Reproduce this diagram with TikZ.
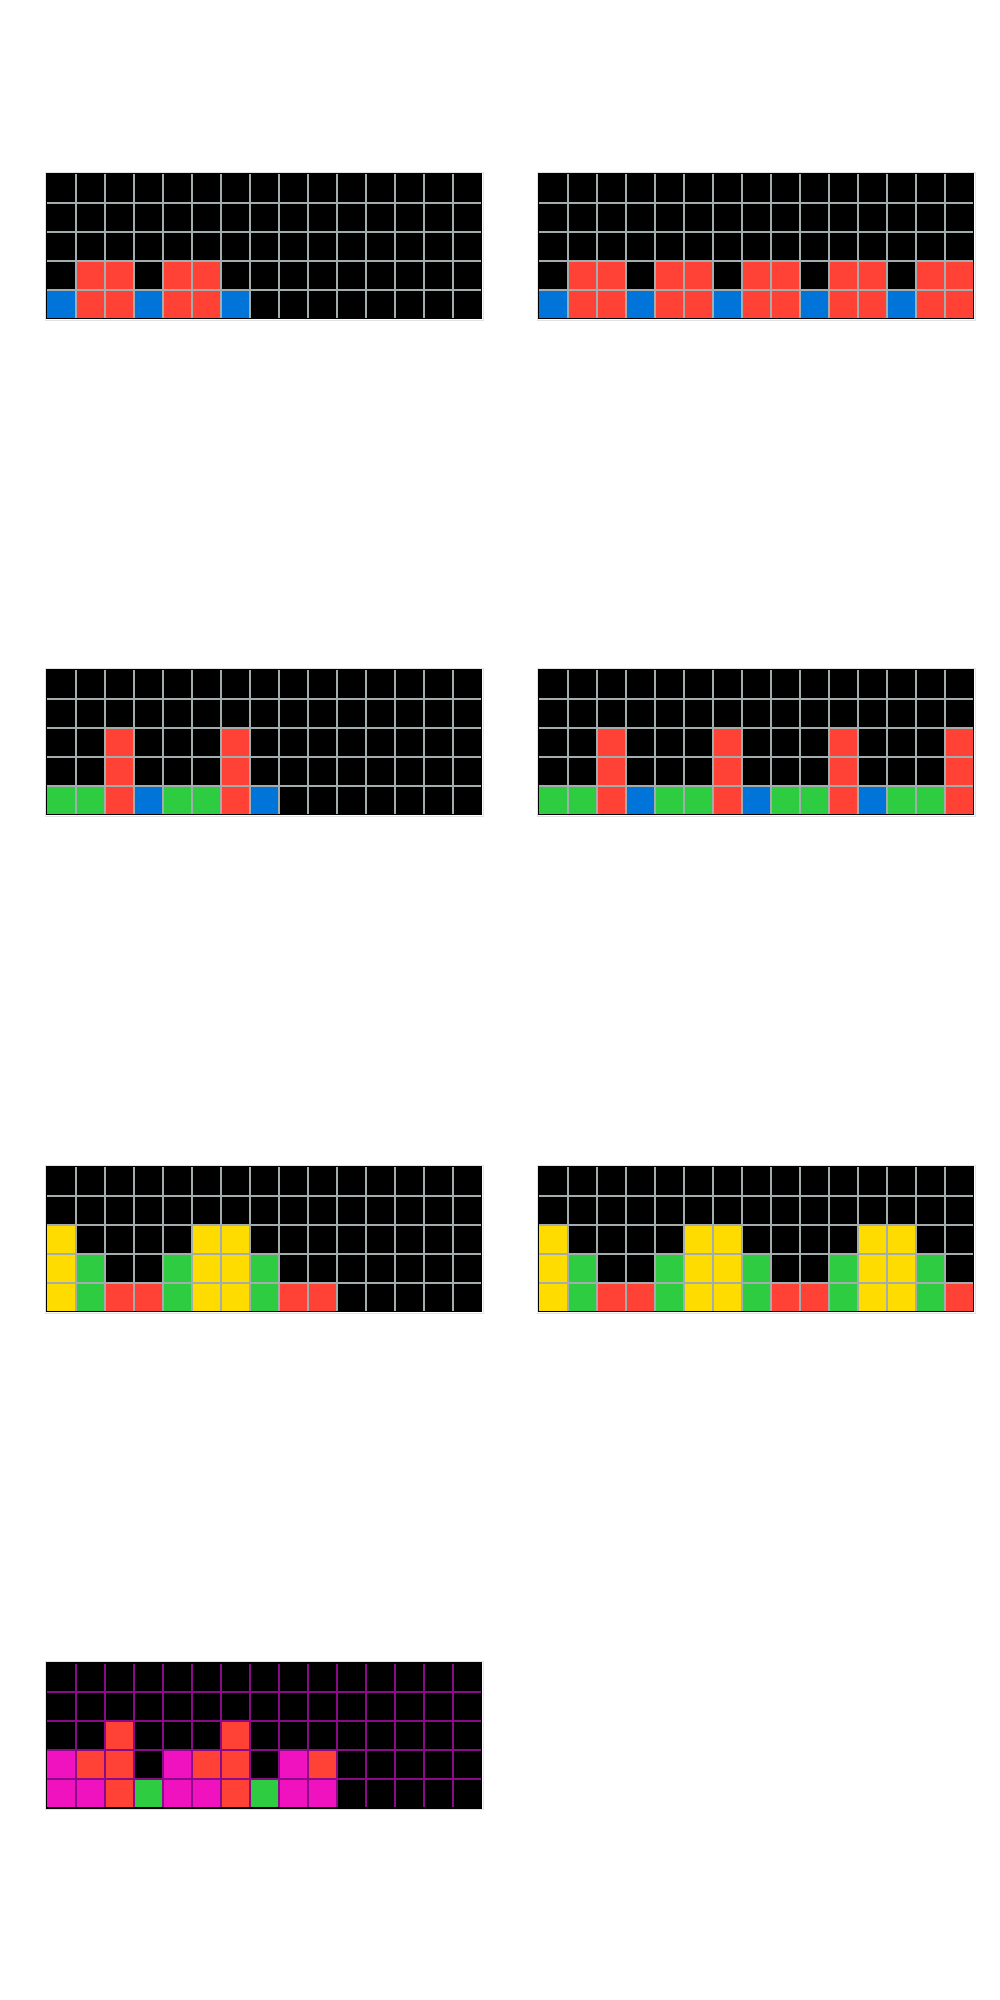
\documentclass[tikz,border=0pt]{standalone}
\definecolor{cB}{HTML}{0074D9}
\definecolor{cR}{HTML}{FF4136}
\definecolor{cG}{HTML}{2ECC40}
\definecolor{cY}{HTML}{FFDC00}
\definecolor{cM}{HTML}{F012BE}
\definecolor{gridgrey}{HTML}{A3ADAD}
\definecolor{gridpurple}{HTML}{8A0A8A}
\definecolor{frame}{HTML}{E2E2E2}
\newcommand\arcgrid[4]{%
 \begin{scope}[shift={(#1,#2)}]
  \draw[frame, line width=0.8] (-1.5,-1.5) rectangle (436.5,146.5);
  \fill[black] (0,0) rectangle (435,145);
  \foreach \cc/\rr/\kk in {#3} { \fill[\kk] (\cc*29,\rr*29) rectangle ++(29,29); }
  \foreach \ii in {1,...,14} { \draw[#4, line width=1.6] (\ii*29,0) -- (\ii*29,145); }
  \foreach \jj in {1,...,4} { \draw[#4, line width=1.6] (0,\jj*29) -- (435,\jj*29); }
  \draw[black, line width=1.4] (0,0) rectangle (435,145);
 \end{scope}}
\begin{document}
\begin{tikzpicture}[x=1pt,y=-1pt]
\useasboundingbox (0,0) rectangle (1000,2000);
\fill[white] (0,0) rectangle (1000,2000);
% grid 1
\arcgrid{46.7}{173.7}{1/3/cR,2/3/cR,4/3/cR,5/3/cR,0/4/cB,1/4/cR,2/4/cR,3/4/cB,4/4/cR,5/4/cR,6/4/cB}{gridgrey}
% grid 2
\arcgrid{538.7}{173.7}{1/3/cR,2/3/cR,4/3/cR,5/3/cR,7/3/cR,8/3/cR,10/3/cR,11/3/cR,13/3/cR,14/3/cR,
 0/4/cB,1/4/cR,2/4/cR,3/4/cB,4/4/cR,5/4/cR,6/4/cB,7/4/cR,8/4/cR,9/4/cB,10/4/cR,11/4/cR,12/4/cB,13/4/cR,14/4/cR}{gridgrey}
% grid 3
\arcgrid{46.7}{669.7}{2/2/cR,6/2/cR,2/3/cR,6/3/cR,0/4/cG,1/4/cG,2/4/cR,3/4/cB,4/4/cG,5/4/cG,6/4/cR,7/4/cB}{gridgrey}
% grid 4
\arcgrid{538.7}{669.7}{2/2/cR,6/2/cR,10/2/cR,14/2/cR,2/3/cR,6/3/cR,10/3/cR,14/3/cR,
 0/4/cG,1/4/cG,2/4/cR,3/4/cB,4/4/cG,5/4/cG,6/4/cR,7/4/cB,8/4/cG,9/4/cG,10/4/cR,11/4/cB,12/4/cG,13/4/cG,14/4/cR}{gridgrey}
% grid 5
\arcgrid{46.7}{1166.7}{0/2/cY,5/2/cY,6/2/cY,0/3/cY,1/3/cG,4/3/cG,5/3/cY,6/3/cY,7/3/cG,
 0/4/cY,1/4/cG,2/4/cR,3/4/cR,4/4/cG,5/4/cY,6/4/cY,7/4/cG,8/4/cR,9/4/cR}{gridgrey}
% grid 6
\arcgrid{538.7}{1166.7}{0/2/cY,5/2/cY,6/2/cY,11/2/cY,12/2/cY,
 0/3/cY,1/3/cG,4/3/cG,5/3/cY,6/3/cY,7/3/cG,10/3/cG,11/3/cY,12/3/cY,13/3/cG,
 0/4/cY,1/4/cG,2/4/cR,3/4/cR,4/4/cG,5/4/cY,6/4/cY,7/4/cG,8/4/cR,9/4/cR,10/4/cG,11/4/cY,12/4/cY,13/4/cG,14/4/cR}{gridgrey}
% grid 7
\arcgrid{46.7}{1663}{2/2/cR,6/2/cR,0/3/cM,1/3/cR,2/3/cR,4/3/cM,5/3/cR,6/3/cR,8/3/cM,9/3/cR,
 0/4/cM,1/4/cM,2/4/cR,3/4/cG,4/4/cM,5/4/cM,6/4/cR,7/4/cG,8/4/cM,9/4/cM}{gridpurple}
\end{tikzpicture}
\end{document}
